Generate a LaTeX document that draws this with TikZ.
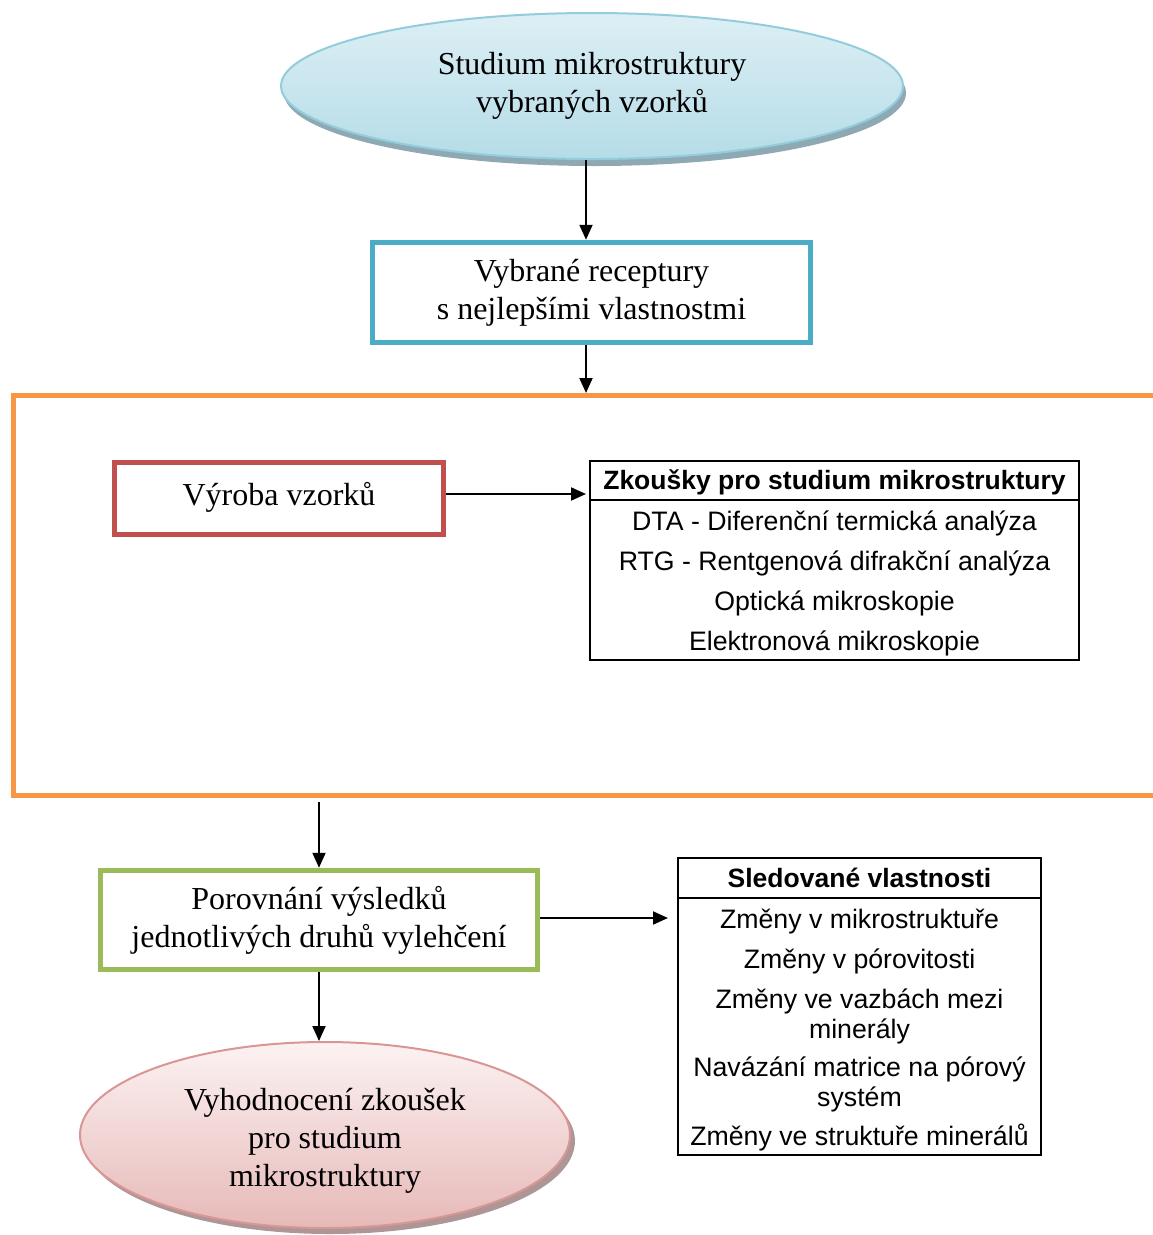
\documentclass[tikz,border=0pt]{standalone}
\usepackage{fontspec}
\setmainfont{Liberation Serif}
\newfontfamily\arialfont{Liberation Sans}
\usetikzlibrary{arrows.meta,shapes.geometric}
\definecolor{ellblueT}{HTML}{DDEFF5}
\definecolor{ellblueB}{HTML}{B5DCE7}
\definecolor{ellblueD}{HTML}{93CDDD}
\definecolor{shadowB}{HTML}{8EA9B3}
\definecolor{boxblue}{HTML}{4BACC6}
\definecolor{frameorange}{HTML}{F79646}
\definecolor{boxred}{HTML}{C0504D}
\definecolor{boxgreen}{HTML}{9BBB59}
\definecolor{ellredT}{HTML}{FCF2F2}
\definecolor{ellredB}{HTML}{E6B9B8}
\definecolor{ellredD}{HTML}{D99694}
\definecolor{shadowR}{HTML}{AE9696}
\begin{document}
\begin{tikzpicture}[x=1pt,y=-1pt,
  serif/.style={font=\fontsize{32}{38}\selectfont, align=center},
  sansrow/.style={font=\arialfont\fontsize{26.7}{30}\selectfont, text height=19pt, text depth=0pt, inner sep=0pt},
  sanshead/.style={sansrow, font=\arialfont\bfseries\fontsize{26.5}{30}\selectfont},
  colbox/.style={draw, line width=5.5pt, fill=white, inner sep=0pt, serif},
  ellnode/.style={ellipse, inner sep=0pt, line width=2pt, serif},
  shadowell/.style={ellipse, inner sep=0pt, draw=none},
  arr/.style={line width=2pt, -{Triangle[length=15pt,width=13pt]}},
  tabbox/.style={draw=black, line width=2pt, inner sep=0pt},
]
\useasboundingbox (0,0) rectangle (1153,1235);
\fill[white] (0,0) rectangle (1153,1235);

% top ellipse
\node[shadowell, fill=shadowB, minimum width=622pt, minimum height=146pt] (e1s) at (595,93) {};
\node[ellnode, draw=ellblueD, top color=ellblueT, bottom color=ellblueB,
      minimum width=622pt, minimum height=146pt] (e1) at (592,86)
      {Studium mikrostruktury\\vybraných vzorků};

% blue box
\node[colbox, draw=boxblue, minimum width=438pt, minimum height=100pt] (b1) at (591.5,292.5)
      {Vybrané receptury\\s nejlepšími vlastnostmi};

% orange frame
\draw[frameorange, line width=5pt] (1160,395.5) -- (13.5,395.5) -- (13.5,795.5) -- (1160,795.5);
\coordinate (ftop) at (586,393);
\coordinate (fbot) at (319,802);

% red box
\node[colbox, draw=boxred, minimum width=329pt, minimum height=72pt] (r1) at (279,498.5)
      {\raisebox{9pt}{Výroba vzorků}};

% table 1
\node[tabbox, minimum width=489pt, minimum height=199pt] (t1) at (834.5,560.5) {};
\draw[line width=2pt] (t1.west |- 0,500) -- (t1.east |- 0,500);
\node[sanshead] (t1h) at (834.5,480) {Zkoušky pro studium mikrostruktury};
\node[sansrow] (t1a) at (834.5,521) {DTA - Diferenční termická analýza};
\node[sansrow] (t1b) at (834.5,561) {RTG - Rentgenová difrakční analýza};
\node[sansrow] (t1c) at (834.5,601) {Optická mikroskopie};
\node[sansrow] (t1d) at (834.5,641) {Elektronová mikroskopie};

% green box
\node[colbox, draw=boxgreen, minimum width=437pt, minimum height=99pt] (g1) at (319,920)
      {Porovnání výsledků\\jednotlivých druhů vylehčení};

% table 2
\node[tabbox, minimum width=363pt, minimum height=297pt] (t2) at (859.5,1006.5) {};
\draw[line width=2pt] (t2.west |- 0,898) -- (t2.east |- 0,898);
\node[sanshead] (t2h) at (859.5,878) {Sledované vlastnosti};
\node[sansrow] (t2a) at (859.5,919) {Změny v mikrostruktuře};
\node[sansrow] (t2b) at (859.5,959) {Změny v pórovitosti};
\node[sansrow] (t2c1) at (859.5,999) {Změny ve vazbách mezi};
\node[sansrow] (t2c2) at (859.5,1029) {minerály};
\node[sansrow] (t2d1) at (859.5,1067) {Navázání matrice na pórový};
\node[sansrow] (t2d2) at (859.5,1097) {systém};
\node[sansrow] (t2e) at (859.5,1136) {Změny ve struktuře minerálů};

% bottom ellipse
\node[shadowell, fill=shadowR, minimum width=490pt, minimum height=186pt] (e2s) at (330,1141) {};
\node[ellnode, draw=ellredD, top color=ellredT, bottom color=ellredB,
      minimum width=490pt, minimum height=186pt] (e2) at (325,1135) {};
\node[serif, inner sep=0pt] (e2t) at (325,1141)
      {Vyhodnocení zkoušek\\pro studium\\mikrostruktury};

% connectors
\draw[arr] ([xshift=-6pt]e1.south) -- ([xshift=-5.5pt]b1.north);
\draw[arr] ([xshift=-5.5pt]b1.south) -- (ftop);
\draw[arr] ([yshift=4.5pt]r1.east) -- ([yshift=4.5pt,xshift=-3pt]r1.east -| t1.west);
\draw[arr] (fbot) -- (g1.north);
\draw[arr] ([yshift=2pt]g1.east) -- ([yshift=2pt,xshift=-9pt]g1.east -| t2.west);
\draw[arr] (g1.south) -- (g1.south |- e2.north);
\end{tikzpicture}
\end{document}
